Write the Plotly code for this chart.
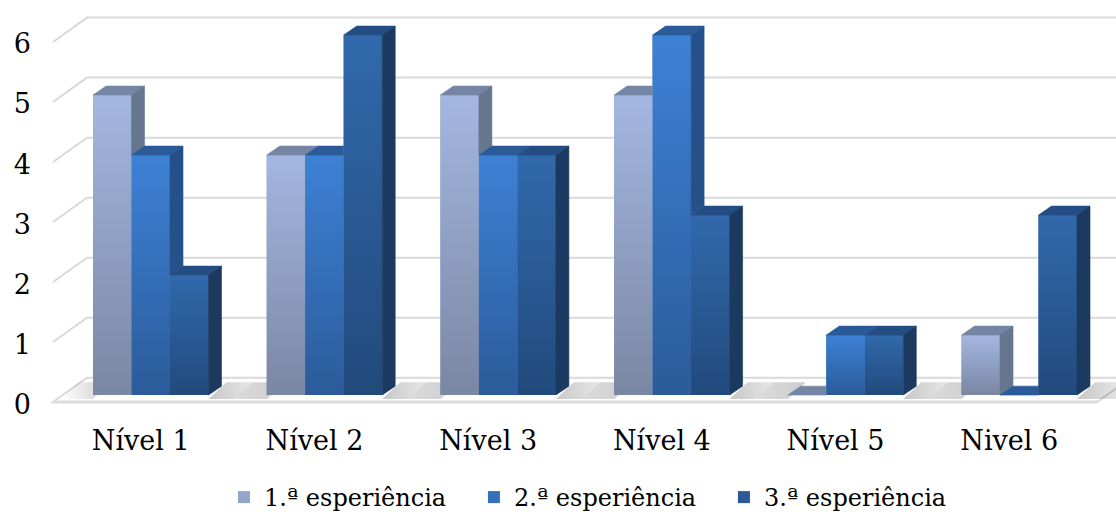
import plotly.graph_objects as go

# ---------------- data ----------------
categories = ["Nível 1", "Nível 2", "Nível 3", "Nível 4", "Nível 5", "Nivel 6"]
series_names = ["1.ª esperiência", "2.ª esperiência", "3.ª esperiência"]
exp1 = [5, 4, 5, 5, 0, 1]
exp2 = [4, 4, 4, 6, 1, 0]
exp3 = [2, 6, 4, 3, 1, 3]
y_ticks = [0, 1, 2, 3, 4, 5, 6]

series_values = [exp1, exp2, exp3]

# ---------------- style ----------------
solid = ["#93a5cb", "#3670bd", "#2a5a95"]
front_top = ["#a4b7e1", "#3d81d5", "#3169ac"]
front_bot = ["#7a87a3", "#2b5b9a", "#214a7c"]
side_col = ["#67768f", "#26508a", "#1c3a60"]
top_col = ["#7585a4", "#2a5a97", "#234d83"]
FONT = "DejaVu Serif"
FS = 27
FS_LEG = 24

W, H = 1116, 520
ML, MR, MT, MB = 32, 0, 0, 105
PX_X = 173.7
PX_Y = 60.3
X0_PX = 150.75
Y0_PX = 397.0

xr = [(ML - X0_PX) / PX_X, (W - MR - X0_PX) / PX_X]
yr = [(Y0_PX - (H - MB)) / PX_Y, (Y0_PX - MT) / PX_Y]


def dxp(px):
    return px / PX_X


def dyp(px):
    return -px / PX_Y


BW = dxp(38.5)
DX, DY = dxp(13), dyp(-9)

xpos = list(range(len(categories)))

fig = go.Figure()

for k, vals in enumerate(series_values):
    fig.add_trace(go.Bar(
        x=xpos, y=vals, width=BW, offset=-1.5 * BW + k * BW,
        name=series_names[k], marker=dict(color=solid[k], line=dict(width=0)),
        hovertemplate="%{y}<extra>" + series_names[k] + "</extra>",
    ))

# floor shadows (gradient) beside each group
y0s, y1s = dyp(4), dyp(-13)
skew = dxp(18)
for i in xpos:
    Lg = i - 1.5 * BW
    Rg = i + 1.5 * BW
    fig.add_trace(go.Scatter(
        x=[Lg - dxp(32), Lg, Lg + skew, Lg - dxp(32) + skew, Lg - dxp(32)],
        y=[y0s, y0s, y1s, y1s, y0s], mode="lines", fill="toself", line=dict(width=0),
        fillgradient=dict(type="horizontal",
                          colorscale=[[0, "rgba(0,0,0,0)"], [1, "rgba(0,0,0,0.2)"]]),
        showlegend=False, hoverinfo="skip"))
    fig.add_trace(go.Scatter(
        x=[Rg, Rg + dxp(60), Rg + dxp(60) + skew, Rg + skew, Rg],
        y=[y0s, y0s, y1s, y1s, y0s], mode="lines", fill="toself", line=dict(width=0),
        fillgradient=dict(type="horizontal",
                          colorscale=[[0, "rgba(0,0,0,0.22)"], [1, "rgba(0,0,0,0)"]]),
        showlegend=False, hoverinfo="skip"))

for k, vals in enumerate(series_values):
    tx, ty, sx, sy = [], [], [], []
    for i, v in enumerate(vals):
        L = i - 1.5 * BW + k * BW
        R = L + BW
        vn = series_values[k + 1][i] if k + 1 < len(series_values) else None
        if v > 0:
            fig.add_trace(go.Scatter(
                x=[L, R, R, L, L], y=[0, 0, v, v, 0], mode="lines",
                fill="toself", line=dict(width=0),
                fillgradient=dict(type="vertical",
                                  colorscale=[[0, front_bot[k]], [1, front_top[k]]]),
                showlegend=False, hoverinfo="skip"))
        if vn is not None and vn > v:
            tx += [L, R, R, L + DX, L, None]
            ty += [v, v, v + DY, v + DY, v, None]
        else:
            tx += [L, R, R + DX, L + DX, L, None]
            ty += [v, v, v + DY, v + DY, v, None]
        base = vn if vn is not None else 0
        if v > base:
            sx += [R, R, R + DX, R + DX, R, None]
            sy += [base, v, v + DY, base + DY, base, None]
    fig.add_trace(go.Scatter(x=tx, y=ty, mode="lines", fill="toself",
                             fillcolor=top_col[k], line=dict(width=0.6, color=top_col[k]),
                             showlegend=False, hoverinfo="skip"))
    if sx:
        fig.add_trace(go.Scatter(x=sx, y=sy, mode="lines", fill="toself",
                                 fillcolor=side_col[k], line=dict(width=0.6, color=side_col[k]),
                                 showlegend=False, hoverinfo="skip"))

shapes = []
xw0 = (53 - X0_PX) / PX_X
xw1 = (87 - X0_PX) / PX_X
xr_end = (1200 - X0_PX) / PX_X
xf_end = (1097 - X0_PX) / PX_X
front_off = dyp(7)
back_off = dyp(-17.5)

shapes.append(dict(type="path", layer="below",
                   path=f"M{xw0},{front_off} L{xf_end},{front_off} L{xf_end + (xw1 - xw0)},{back_off} L{xw1},{back_off} Z",
                   fillcolor="#ffffff", line=dict(color="#d9d9d9", width=2)))
shapes.append(dict(type="path", layer="below",
                   path=f"M{xw0},{front_off} L{xf_end},{front_off}",
                   line=dict(color="#dcdcdc", width=3)))
for v in y_ticks[1:]:
    shapes.append(dict(type="path", layer="below",
                       path=f"M{xw0},{v + front_off} L{xw1},{v + back_off} L{xr_end},{v + back_off}",
                       line=dict(color="#d9d9d9", width=2)))

tfont = dict(family=FONT, size=FS, color="black")
fig.update_layout(
    width=W, height=H,
    margin=dict(l=ML, r=MR, t=MT, b=MB),
    paper_bgcolor="white", plot_bgcolor="white",
    barmode="overlay",
    shapes=shapes,
    font=tfont,
    showlegend=True,
    legend=dict(orientation="h", x=0.523, xanchor="center", y=-0.205, yanchor="middle",
                font=dict(family=FONT, size=FS_LEG, color="black"),
                entrywidth=205, entrywidthmode="pixels",
                bgcolor="rgba(0,0,0,0)"),
    xaxis=dict(range=xr, tickvals=xpos, ticktext=categories, showgrid=False,
               zeroline=False, showline=False, ticks="", ticklabelshift=-10,
               ticklabelstandoff=9, fixedrange=True, tickfont=tfont),
    yaxis=dict(range=yr, tickvals=y_ticks, showgrid=False, zeroline=False,
               showline=False, ticks="", ticklabelshift=9, ticklabelstandoff=0,
               fixedrange=True, tickfont=tfont),
)

fig.write_html("out.html")
